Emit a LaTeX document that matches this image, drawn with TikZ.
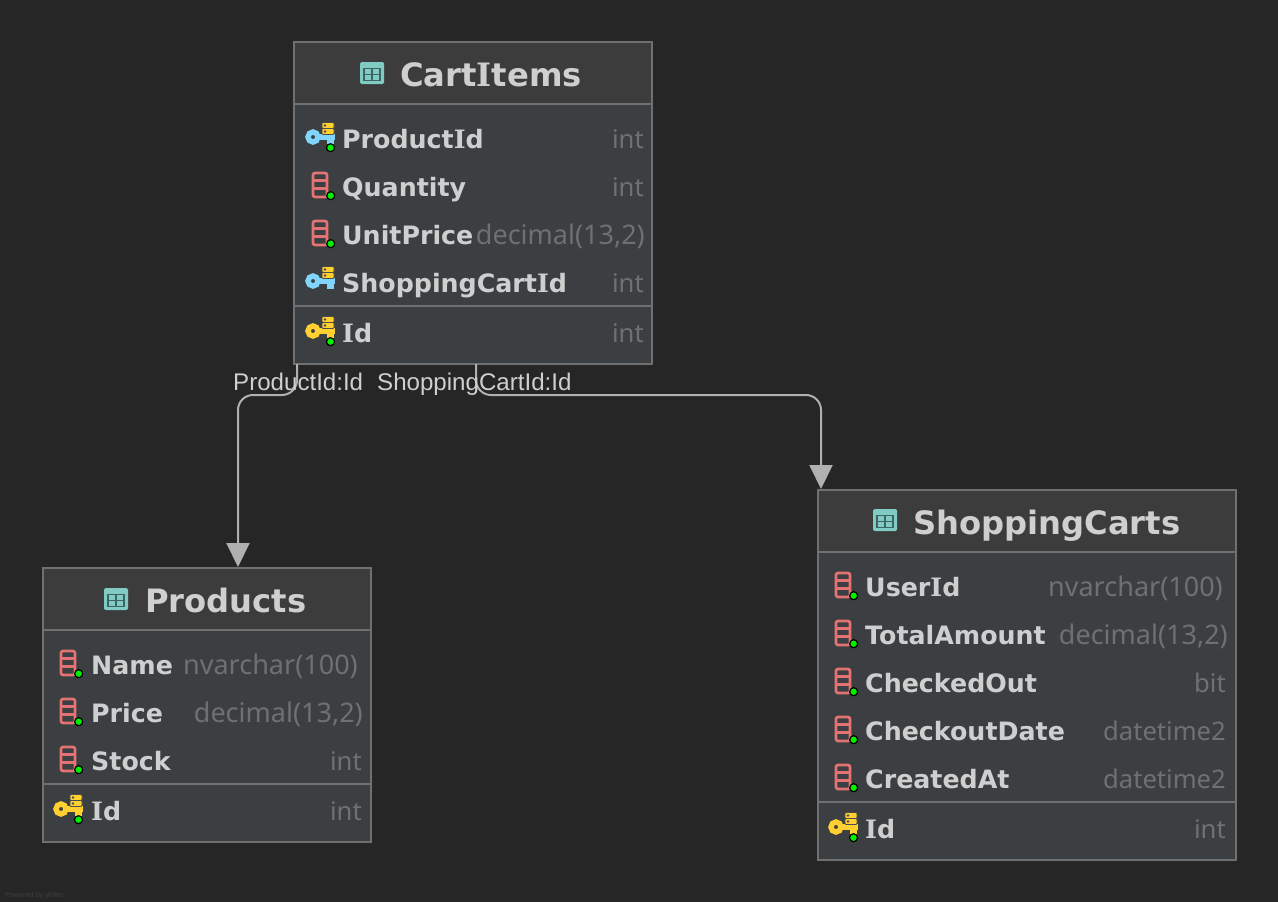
\documentclass[tikz,border=0pt]{standalone}
\usepackage{fontspec}
\setmainfont{Noto Sans}
\newfontfamily\lblfont{Liberation Sans}
\newfontfamily\bfnames{DejaVu Sans Bold}
\newfontfamily\slabI{DejaVu Serif Bold}
\newcommand{\Ibar}{{\slabI I}}
\usetikzlibrary{arrows.meta,calc}
\definecolor{bgc}{HTML}{262626}
\definecolor{headc}{HTML}{3C3C3C}
\definecolor{bodyc}{HTML}{3C3F41}
\definecolor{edgec}{HTML}{707070}
\definecolor{txtc}{HTML}{CFCFCF}
\definecolor{typec}{HTML}{707070}
\definecolor{linkc}{HTML}{B0B0B0}
\definecolor{colc}{HTML}{E57373}
\definecolor{tblc}{HTML}{80CBC4}
\definecolor{tbll}{HTML}{3F6461}
\definecolor{fkc}{HTML}{81D4FA}
\definecolor{pkc}{HTML}{FFD030}
\definecolor{dotc}{HTML}{00F000}
\tikzset{
  x=1pt,y=-1pt,
  tablebox/.style={draw=edgec,line width=1.6pt,fill=bodyc,inner sep=0pt,anchor=north west,outer sep=0pt},
  titletext/.style={anchor=base west,inner sep=0pt,text=txtc,font=\bfnames\fontsize{32.2}{32.2}\selectfont},
  fieldtext/.style={anchor=base west,inner sep=0pt,text=txtc,font=\bfnames\fontsize{25.3}{25.3}\selectfont},
  typetext/.style={anchor=base east,inner sep=0pt,text=typec,font=\fontsize{27}{27}\selectfont},
  typeshort/.style={anchor=base east,inner sep=0pt,text=typec,font=\fontsize{25.6}{25.6}\selectfont},
  linklabel/.style={anchor=base west,inner sep=0pt,text=txtc,font=\lblfont\fontsize{24.1}{24.1}\selectfont},
  rowline/.style={draw=edgec,line width=1.8pt},
  link/.style={draw=linkc,line width=2pt,rounded corners=15pt,-{Triangle[length=24pt,width=23pt,fill=linkc]}},
}
\newcommand{\tableframe}[7]{%
  \node[tablebox,minimum width=#3-#1,minimum height=#4-#2] (#7) at (#1,#2) {};
  \fill[headc] (#1+1,#2+1) rectangle (#3-1,#5);
  \draw[rowline] (#1+1,#5) -- (#3-1,#5);
  \draw[rowline] (#1+1,#6) -- (#3-1,#6);
  \draw[draw=edgec,line width=1.6pt] (#1,#2) rectangle (#3,#4);
}
\newcommand{\tableicon}[2]{%
  \begin{scope}[shift={(#1,#2)}]
    \fill[tblc,rounded corners=1.5pt] (-12,-11) rectangle (12,11);
    \draw[tbll,line width=1.1pt] (-8,-4.5) rectangle (8,7.5) (-8,1.5) -- (8,1.5) (0,-4.5) -- (0,7.5);
  \end{scope}}
\newcommand{\gdot}[2]{\fill[dotc,draw=black,line width=1.2pt] (#1,#2) circle (4pt);}
\newcommand{\colicon}[2]{%
  \begin{scope}[shift={(#1,#2)}]
    \draw[colc,line width=2.6pt,rounded corners=2pt] (-7,-12) rectangle (7,12);
    \draw[colc,line width=2.2pt] (-7,-4.5) -- (7,-4.5) (-7,3.5) -- (7,3.5);
    \gdot{10.7}{10.7}
  \end{scope}}
\newcommand{\keyicon}[4]{%
  \begin{scope}[shift={(#1,#2)}]
    \draw[#3,line width=5.4pt] (0,0) circle (5pt);
    \fill[#3] (6,-3) rectangle (22,3);
    \fill[#3] (14,0) rectangle (21,8);
    \fill[pkc,draw=black!70,line width=0.8pt,rounded corners=1pt] (9,-14.5) rectangle (21,-8.5);
    \fill[pkc,draw=black!70,line width=0.8pt,rounded corners=1pt] (9,-8.5) rectangle (21,-2.5);
    \fill[black!70] (12,-11.5) circle (1.3pt) (12,-5.5) circle (1.3pt);
    \ifnum#4=1 \gdot{17.5}{10.7}\fi
  \end{scope}}
\begin{document}
\begin{tikzpicture}
\useasboundingbox (0,0) rectangle (1278,902);
\fill[bgc] (0,0) rectangle (1278,902);

%% CartItems
\tableframe{294}{42}{652}{364}{104}{306}{cart}
\tableicon{372}{73}
\node[titletext] (cartT) at (400,86) {Cart\Ibar tems};
\keyicon{313}{137}{fkc}{1}
\node[fieldtext] (c1) at (342,148) {Product\Ibar d};
\node[typeshort] (c1t) at (644,148) {int};
\colicon{320}{185}
\node[fieldtext] (c2) at (342,196) {Quantity};
\node[typeshort] (c2t) at (644,196) {int};
\colicon{320}{233}
\node[fieldtext] (c3) at (342,244) {UnitPrice};
\node[typetext] (c3t) at (645,244) {decimal(13,2)};
\keyicon{313}{281}{fkc}{0}
\node[fieldtext] (c4) at (342,292) {ShoppingCart\Ibar d};
\node[typeshort] (c4t) at (644,292) {int};
\keyicon{313}{331}{pkc}{1}
\node[fieldtext] (c5) at (342,342) {\Ibar d};
\node[typeshort] (c5t) at (644,342) {int};

%% Products
\tableframe{43}{568}{371}{842}{630}{784}{prod}
\tableicon{116}{599}
\node[titletext] (prodT) at (145,612) {Products};
\colicon{68}{663}
\node[fieldtext] (p1) at (91,674) {Name};
\node[typetext] (p1t) at (358,674) {nvarchar(100)};
\colicon{68}{711}
\node[fieldtext] (p2) at (91,722) {Price};
\node[typetext] (p2t) at (363,722) {decimal(13,2)};
\colicon{68}{759}
\node[fieldtext] (p3) at (91,770) {Stock};
\node[typeshort] (p3t) at (362,770) {int};
\keyicon{61}{809}{pkc}{1}
\node[fieldtext] (p4) at (91,820) {\Ibar d};
\node[typeshort] (p4t) at (362,820) {int};

%% ShoppingCarts
\tableframe{818}{490}{1236}{860}{552}{802}{shop}
\tableicon{885}{520}
\node[titletext] (shopT) at (913,534) {ShoppingCarts};
\colicon{843}{585}
\node[fieldtext] (s1) at (865,596) {User\Ibar d};
\node[typetext] (s1t) at (1223,596) {nvarchar(100)};
\colicon{843}{633}
\node[fieldtext] (s2) at (865,644) {TotalAmount};
\node[typetext] (s2t) at (1228,644) {decimal(13,2)};
\colicon{843}{681}
\node[fieldtext] (s3) at (865,692) {CheckedOut};
\node[typeshort] (s3t) at (1226,692) {bit};
\colicon{843}{729}
\node[fieldtext] (s4) at (865,740) {CheckoutDate};
\node[typeshort] (s4t) at (1226,740) {datetime2};
\colicon{843}{777}
\node[fieldtext] (s5) at (865,788) {CreatedAt};
\node[typeshort] (s5t) at (1226,788) {datetime2};
\keyicon{836}{827}{pkc}{1}
\node[fieldtext] (s6) at (865,838) {\Ibar d};
\node[typeshort] (s6t) at (1226,838) {int};

%% connectors
\draw[link] ($(cart.south west)+(3,0)$) -- ++(0,31) -- ($(prod.north west)+(195,-173)$) -- ($(prod.north west)+(195,-1)$);
\draw[link] ($(cart.south west)+(182,0)$) -- ++(0,31) -- ($(shop.north west)+(3,-95)$) -- ($(shop.north west)+(3,-1)$);
\node[linklabel] (l1) at (233,390) {ProductId:Id};
\node[linklabel] (l2) at (377,390) {ShoppingCartId:Id};

\node[anchor=base west,inner sep=0pt,text=white!12!bgc,font=\fontsize{7}{7}\selectfont] (pw) at (5,897) {Powered by yFiles};
\end{tikzpicture}
\end{document}
